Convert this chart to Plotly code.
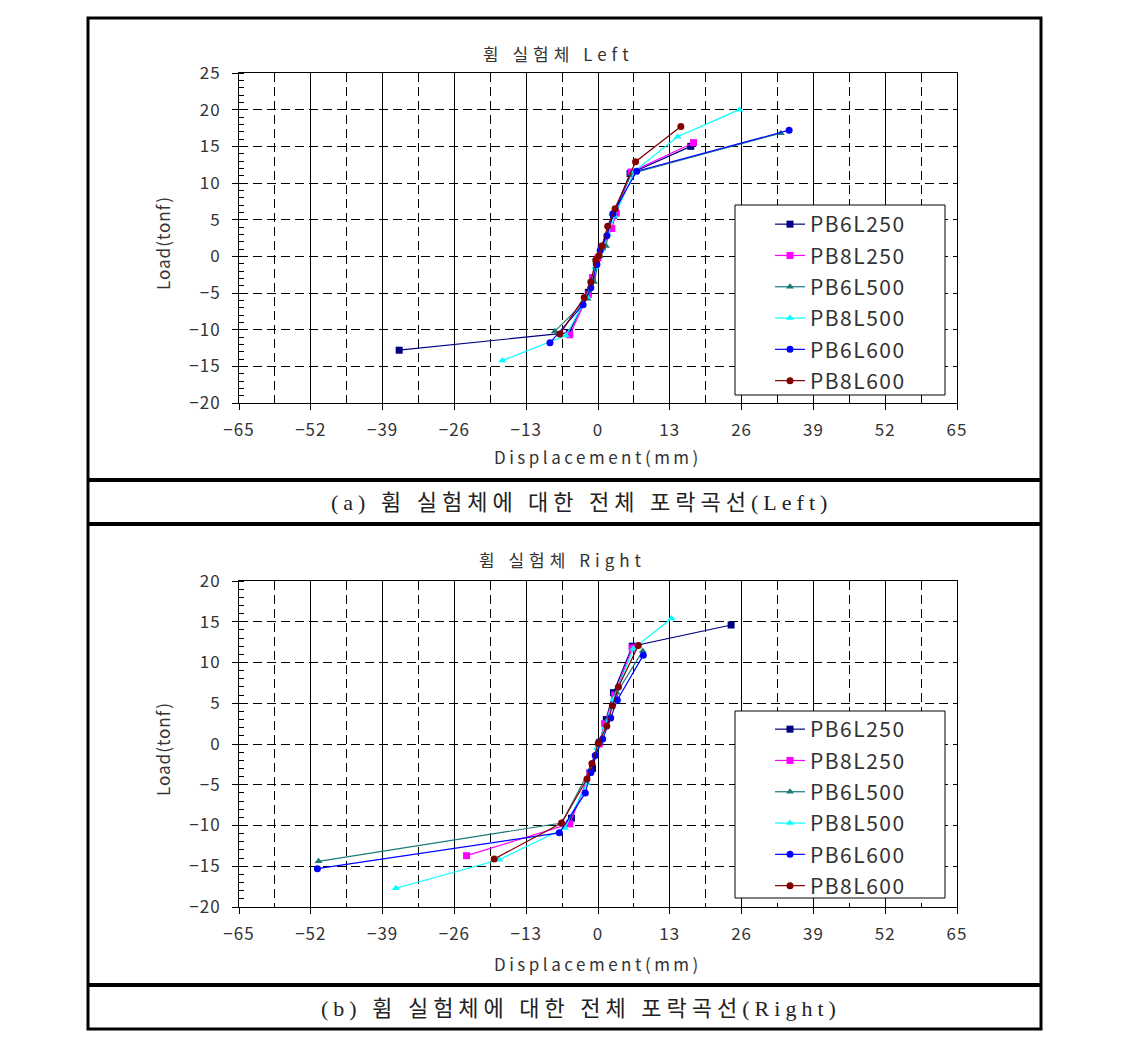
import plotly.graph_objects as go

W, H = 1121, 1044
OFF = 8  # 페이지 body 여백

names = ["PB6L250", "PB8L250", "PB6L500", "PB8L500", "PB6L600", "PB8L600"]
colors = ["#000080", "#ff00ff", "#1a7a7a", "#00ffff", "#0000ff", "#800000"]
symbols = ["square", "square", "triangle-up", "triangle-up", "circle", "circle"]

# 휨 실험체 Left
left_x_pb6l250 = [-36.0, -5.2, -1.75, -0.3, 0.6, 2.8, 5.8, 16.8]
left_y_pb6l250 = [-12.8, -10.4, -4.9, -0.8, 1.2, 5.6, 11.3, 15.0]
left_x_pb8l250 = [-5.1, -1.75, -1.0, 0.0, 0.8, 2.5, 3.3, 6.0, 17.3]
left_y_pb8l250 = [-10.7, -5.2, -2.9, -0.2, 1.3, 3.8, 5.9, 11.5, 15.5]
left_x_pb6l500 = [-7.8, -1.9, -0.7, 0.3, 1.45, 2.6, 6.1, 33.1]
left_y_pb6l500 = [-10.2, -5.8, -3.5, 0.0, 1.4, 5.8, 11.3, 16.8]
left_x_pb8l500 = [-17.3, -5.8, -2.0, -0.5, 0.6, 1.8, 3.0, 6.6, 14.4, 25.6]
left_y_pb8l500 = [-14.2, -10.8, -5.5, -1.5, 1.0, 3.0, 5.5, 11.6, 16.3, 20.0]
left_x_pb6l600 = [-8.7, -2.7, -1.3, -0.2, 0.4, 1.6, 2.7, 7.0, 34.6]
left_y_pb6l600 = [-11.8, -6.6, -4.3, -1.1, 0.8, 2.8, 5.8, 11.6, 17.2]
left_x_pb8l600 = [-6.9, -2.5, -1.3, -0.4, 0.2, 0.7, 1.75, 3.1, 6.8, 15.0]
left_y_pb8l600 = [-10.6, -5.6, -3.5, -0.5, 0.1, 1.4, 4.1, 6.5, 12.9, 17.7]

# 휨 실험체 Right
right_x_pb6l250 = [-4.8, -1.0, 0.3, 1.5, 2.8, 6.2, 24.1]
right_y_pb6l250 = [-9.1, -3.0, 0.2, 3.0, 6.3, 12.0, 14.6]
right_x_pb8l250 = [-23.8, -5.1, -1.5, 0.2, 1.2, 3.0, 6.2]
right_y_pb8l250 = [-13.7, -9.8, -3.5, 0.0, 2.5, 6.0, 11.8]
right_x_pb6l500 = [-50.6, -6.6, -1.5, 0.3, 1.8, 3.4, 8.1]
right_y_pb6l500 = [-14.4, -9.7, -3.2, 0.3, 3.0, 6.3, 11.4]
right_x_pb8l500 = [-36.6, -17.9, -6.0, -2.0, -0.2, 1.2, 2.8, 6.4, 13.3]
right_y_pb8l500 = [-17.7, -14.2, -10.3, -4.8, -0.5, 2.0, 5.5, 11.7, 15.4]
right_x_pb6l600 = [-50.8, -7.0, -2.3, -1.3, -0.5, 0.85, 2.3, 3.5, 8.2]
right_y_pb6l600 = [-15.3, -10.9, -6.0, -3.5, -1.4, 0.6, 3.2, 5.4, 10.9]
right_x_pb8l600 = [-18.8, -6.6, -2.0, -1.1, 0.05, 1.6, 2.6, 3.7, 7.3]
right_y_pb8l600 = [-14.1, -9.7, -4.3, -2.4, 0.1, 2.2, 4.7, 7.0, 12.1]

x_ticks = [-65, -52, -39, -26, -13, 0, 13, 26, 39, 52, 65]

left_data = [(left_x_pb6l250, left_y_pb6l250), (left_x_pb8l250, left_y_pb8l250),
             (left_x_pb6l500, left_y_pb6l500), (left_x_pb8l500, left_y_pb8l500),
             (left_x_pb6l600, left_y_pb6l600), (left_x_pb8l600, left_y_pb8l600)]
right_data = [(right_x_pb6l250, right_y_pb6l250), (right_x_pb8l250, right_y_pb8l250),
              (right_x_pb6l500, right_y_pb6l500), (right_x_pb8l500, right_y_pb8l500),
              (right_x_pb6l600, right_y_pb6l600), (right_x_pb8l600, right_y_pb8l600)]


def px(x):
    return (x - OFF) / W


def py(y):
    return 1 - (y - OFF) / H


def spaced(text, sp):
    return '<span style="letter-spacing:%spx">%s</span>' % (sp, text)


FONT = "Noto Sans CJK KR"
TXT = "#333333"

fig = go.Figure()

for i, (xs, ys) in enumerate(left_data):
    fig.add_trace(go.Scatter(
        x=xs, y=ys, name=spaced(names[i], 1.5), mode="lines+markers",
        line=dict(color=colors[i], width=1.2),
        marker=dict(color=colors[i], symbol=symbols[i], size=7),
        xaxis="x", yaxis="y", legend="legend", legendgroup="L" + str(i),
    ))
for i, (xs, ys) in enumerate(right_data):
    fig.add_trace(go.Scatter(
        x=xs, y=ys, name=spaced(names[i], 1.5), mode="lines+markers",
        line=dict(color=colors[i], width=1.2),
        marker=dict(color=colors[i], symbol=symbols[i], size=7),
        xaxis="x2", yaxis="y2", legend="legend2", legendgroup="R" + str(i),
    ))

x_common = dict(
    range=[-65, 65], tickvals=x_ticks, ticktext=[spaced(str(v).replace("-", "\u2212"), 1) for v in x_ticks],
    ticks="outside", ticklen=6, tickcolor="black", ticklabelstandoff=6,
    showline=True, linecolor="black", linewidth=1, mirror=True,
    showgrid=True, gridcolor="black", gridwidth=1, zeroline=False,
    minor=dict(dtick=6.5, tick0=0, showgrid=True, gridcolor="black", griddash="9px,5px", gridwidth=1),
    tickfont=dict(family=FONT, size=17, color=TXT),
    automargin=False,
)


def y_axis(lo, hi, dom):
    vals = list(range(lo, hi + 1, 5))
    return dict(
        domain=dom, range=[lo, hi], tickvals=vals,
        ticktext=[spaced(str(v).replace("-", "\u2212"), 1) for v in vals],
        ticks="outside", ticklen=6, tickcolor="black", ticklabelstandoff=8,
        showline=True, linecolor="black", linewidth=1, mirror=True,
        showgrid=True, gridcolor="black", griddash="9px,5px", gridwidth=1, zeroline=False,
        minor=dict(dtick=1, ticks="inside", ticklen=5, tickcolor="black"),
        tickfont=dict(family=FONT, size=17, color=TXT),
        automargin=False,
    )


legend_common = dict(
    bgcolor="rgba(0,0,0,0)", borderwidth=0,
    font=dict(family=FONT, size=21, color=TXT),
    xanchor="left", yanchor="top", itemwidth=30, tracegroupgap=1,
)

fig.update_layout(
    width=W, height=H,
    margin=dict(l=0, r=0, t=0, b=0, autoexpand=False),
    paper_bgcolor="white", plot_bgcolor="white",
    showlegend=True,
    xaxis=dict(domain=[px(239), px(957)], anchor="y", **x_common),
    yaxis=dict(anchor="x", **y_axis(-20, 25, [py(403), py(73)])),
    xaxis2=dict(domain=[px(239), px(957)], anchor="y2", **x_common),
    yaxis2=dict(anchor="x2", **y_axis(-20, 20, [py(907), py(581)])),
    legend=dict(x=px(770), y=py(204), **legend_common),
    legend2=dict(x=px(770), y=py(709), **legend_common),
)

# 범례 상자
for top, bottom in [(205, 395), (711, 898)]:
    fig.add_shape(type="rect", xref="paper", yref="paper",
                  x0=px(735), x1=px(945), y0=py(bottom), y1=py(top),
                  line=dict(color="black", width=1), fillcolor="white", layer="above")

# 축 제목, 그래프 제목
ann = [
    ("휨 실험체 Left", 558, 53, 17, 0, 5),
    ("휨 실험체 Right", 562, 559, 17, 0, 5),
    ("Displacement(mm)", 598, 457, 17, 0, 3.5),
    ("Displacement(mm)", 598, 963, 17, 0, 3.5),
    ("Load(tonf)", 162, 243, 17, -90, 1),
    ("Load(tonf)", 162, 749, 17, -90, 1),
]
for text, x, y, size, ang, sp in ann:
    fig.add_annotation(text=spaced(text, sp), x=px(x), y=py(y), xref="paper", yref="paper",
                       xanchor="center", yanchor="middle",
                       showarrow=False, textangle=ang,
                       font=dict(family=FONT, size=size, color=TXT))

# 그림 설명
CAP_FONT = "Liberation Serif, Noto Sans CJK KR"
for text, y in [("(a) 휨 실험체에 대한 전체 포락곡선(Left)", 502),
                ("(b) 휨 실험체에 대한 전체 포락곡선(Right)", 1008)]:
    fig.add_annotation(text=spaced(text, 5), x=px(581), y=py(y),
                       xref="paper", yref="paper", showarrow=False,
                       xanchor="center", yanchor="middle",
                       font=dict(family=CAP_FONT, size=22, color="#222222"))

# 바깥 테두리
fig.add_shape(type="rect", xref="paper", yref="paper",
              x0=px(88), x1=px(1041), y0=py(1029), y1=py(18),
              line=dict(color="black", width=3))
for yy in [480, 524, 985]:
    fig.add_shape(type="line", xref="paper", yref="paper",
                  x0=px(88), x1=px(1041), y0=py(yy), y1=py(yy),
                  line=dict(color="black", width=4))

fig.write_html("out.html")
